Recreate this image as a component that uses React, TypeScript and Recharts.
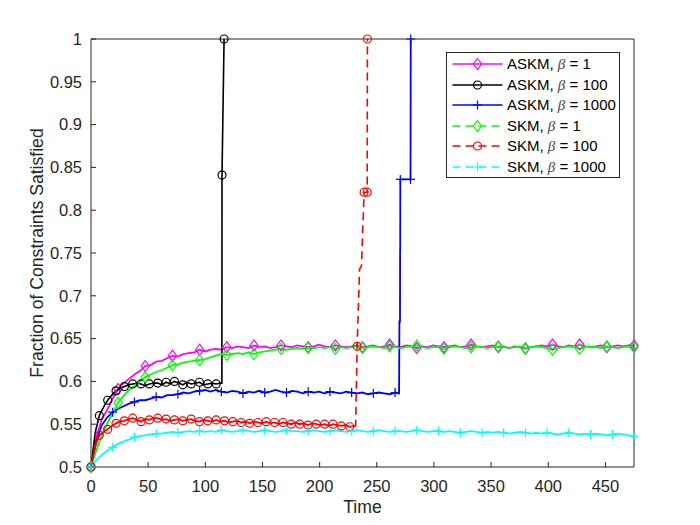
import { LineChart, Line, XAxis, YAxis, Legend, Label } from "recharts"

const xTicks = [0, 50, 100, 150, 200, 250, 300, 350, 400, 450]
const yTicks = [0.5, 0.55, 0.6, 0.65, 0.7, 0.75, 0.8, 0.85, 0.9, 0.95, 1]

// sampling steps of the time axis
const longStep = 4.75
const shortStep = 3.65

// ASKM, beta = 1
const askm1 = [
  0.5, 0.535, 0.556, 0.567, 0.58, 0.591, 0.598, 0.603, 0.608, 0.612,
  0.618, 0.619, 0.623, 0.624, 0.627, 0.63, 0.629, 0.632, 0.633, 0.634,
  0.637, 0.635, 0.637, 0.638, 0.637, 0.64, 0.639, 0.641, 0.64, 0.639,
  0.642, 0.64, 0.641, 0.639, 0.64, 0.642, 0.641, 0.64, 0.642, 0.641,
  0.64, 0.641, 0.643, 0.641, 0.64, 0.642, 0.641, 0.64, 0.641, 0.642,
  0.64, 0.641, 0.642, 0.64, 0.641, 0.643, 0.641, 0.64, 0.642, 0.641,
  0.639, 0.641, 0.64, 0.642, 0.641, 0.64, 0.641, 0.642, 0.64, 0.641,
  0.643, 0.641, 0.64, 0.641, 0.642, 0.64, 0.641, 0.639, 0.641, 0.64,
  0.638, 0.64, 0.641, 0.642, 0.641, 0.643, 0.641, 0.64, 0.642, 0.641,
  0.643, 0.641, 0.64, 0.641, 0.642, 0.64, 0.641, 0.642, 0.641, 0.642,
  0.642
]

// ASKM, beta = 100
const askm100 = [
  0.5, 0.54, 0.56, 0.57, 0.578, 0.584, 0.589, 0.592, 0.594, 0.596,
  0.597, 0.598, 0.597, 0.595, 0.597, 0.598, 0.598, 0.596, 0.599, 0.597,
  0.6, 0.598, 0.596, 0.599, 0.597, 0.598, 0.599, 0.596, 0.597, 0.598,
  0.597, 0.598
]
const askm100JumpT = [114.5, 114.6, 116.4]
const askm100JumpV = [0.598, 0.841, 1]
const askm100JumpM = [0, 1, 1]

// ASKM, beta = 1000
const askm1000 = [
  0.5, 0.531, 0.549, 0.558, 0.564, 0.568, 0.571, 0.574, 0.576, 0.578,
  0.578, 0.58, 0.582, 0.581, 0.584, 0.584, 0.585, 0.587, 0.586, 0.588,
  0.589, 0.59, 0.588, 0.59, 0.588, 0.587, 0.589, 0.588, 0.586, 0.588,
  0.587, 0.589, 0.587, 0.588, 0.59, 0.588, 0.587, 0.589, 0.588, 0.586,
  0.588, 0.587, 0.588, 0.586, 0.588, 0.587, 0.586, 0.588, 0.587, 0.586,
  0.587, 0.585, 0.586, 0.587, 0.586, 0.585, 0.587
]
const askm1000JumpT = [269.5, 269.8, 270.3, 270.4, 270.5, 270.6, 279.5, 279.7]
const askm1000JumpV = [0.586, 0.67, 0.67, 0.753, 0.753, 0.836, 0.836, 1]
const askm1000JumpM = [0, 0, 0, 0, 0, 1, 1, 1]

// SKM, beta = 1
const skm1 = [
  0.5, 0.52, 0.537, 0.551, 0.563, 0.575, 0.583, 0.59, 0.595, 0.6,
  0.605, 0.608, 0.611, 0.613, 0.616, 0.619, 0.62, 0.622, 0.623, 0.624,
  0.625, 0.626, 0.628, 0.63, 0.632, 0.631, 0.632, 0.633, 0.632, 0.634,
  0.632, 0.634, 0.635, 0.636, 0.637, 0.638, 0.637, 0.638, 0.639, 0.638,
  0.639, 0.639, 0.64, 0.639, 0.64, 0.638, 0.64, 0.639, 0.64, 0.641,
  0.639, 0.64, 0.641, 0.64, 0.639, 0.641, 0.64, 0.639, 0.64, 0.641,
  0.642, 0.64, 0.639, 0.64, 0.64, 0.638, 0.64, 0.641, 0.64, 0.639,
  0.64, 0.641, 0.64, 0.639, 0.64, 0.641, 0.64, 0.639, 0.64, 0.641,
  0.639, 0.64, 0.641, 0.64, 0.639, 0.637, 0.639, 0.64, 0.641, 0.64,
  0.638, 0.64, 0.641, 0.64, 0.639, 0.641, 0.64, 0.639, 0.64, 0.641,
  0.64
]

// SKM, beta = 100
const skm100 = [
  0.5, 0.524, 0.537, 0.541, 0.544, 0.548, 0.551, 0.553, 0.554, 0.556,
  0.557, 0.555, 0.553, 0.556, 0.555, 0.557, 0.557, 0.555, 0.556, 0.554,
  0.555, 0.556, 0.554, 0.555, 0.556, 0.554, 0.553, 0.555, 0.554, 0.553,
  0.555, 0.553, 0.554, 0.552, 0.553, 0.554, 0.552, 0.553, 0.551, 0.553,
  0.552, 0.551, 0.553, 0.551, 0.552, 0.55, 0.552, 0.551, 0.55, 0.552,
  0.55, 0.551, 0.549, 0.551, 0.55, 0.549, 0.55, 0.548, 0.55, 0.549,
  0.548, 0.549, 0.547, 0.548
]
const skm100JumpT = [231.5, 232.8, 234.9, 236.6, 238.9, 241.6, 241.8]
const skm100JumpV = [0.548, 0.641, 0.731, 0.735, 0.821, 0.821, 1]
const skm100JumpM = [0, 1, 0, 0, 1, 1, 1]

// SKM, beta = 1000
const skm1000 = [
  0.5, 0.508, 0.514, 0.519, 0.523, 0.527, 0.53, 0.532, 0.535, 0.536,
  0.537, 0.538, 0.539, 0.539, 0.54, 0.541, 0.54, 0.541, 0.542, 0.541,
  0.542, 0.541, 0.542, 0.541, 0.543, 0.542, 0.541, 0.542, 0.543, 0.542,
  0.541, 0.542, 0.543, 0.542, 0.541, 0.542, 0.543, 0.542, 0.542, 0.541,
  0.542, 0.543, 0.542, 0.541, 0.542, 0.543, 0.542, 0.541, 0.542, 0.543,
  0.542, 0.541, 0.542, 0.543, 0.542, 0.541, 0.542, 0.542, 0.541, 0.542,
  0.543, 0.542, 0.541, 0.542, 0.542, 0.541, 0.542, 0.541, 0.54, 0.541,
  0.542, 0.541, 0.54, 0.541, 0.54, 0.541, 0.54, 0.539, 0.54, 0.541,
  0.54, 0.539, 0.54, 0.539, 0.54, 0.539, 0.538, 0.539, 0.54, 0.539,
  0.538, 0.539, 0.538, 0.539, 0.538, 0.537, 0.538, 0.539, 0.538, 0.537,
  0.536
]

type Row = { t: number; v: number; m: boolean }

function build(step: number, vals: number[], every: number, jt: number[] = [], jv: number[] = [], jm: number[] = []): Row[] {
  const rows: Row[] = vals.map((v, i) => ({ t: +(i * step).toFixed(3), v, m: i % every === 0 }))
  jt.forEach((t, i) => rows.push({ t, v: jv[i], m: !!jm[i] }))
  return rows
}

const magentaRows = build(longStep, askm1, 5)
const blackRows = build(shortStep, askm100, 2, askm100JumpT, askm100JumpV, askm100JumpM)
const blueRows = build(longStep, askm1000, 4, askm1000JumpT, askm1000JumpV, askm1000JumpM)
const greenRows = build(longStep, skm1, 5)
const redRows = build(shortStep, skm100, 2)
const redJumpRows: Row[] = [
  { ...redRows[redRows.length - 1], m: false },
  ...build(0, [], 1, skm100JumpT, skm100JumpV, skm100JumpM)
]
const cyanRows = build(longStep, skm1000, 4)

const font = '"Liberation Sans", Arial, sans-serif'
const axisColor = "#262626"

function Marker({ kind, x, y, color }: { kind: string; x: number; y: number; color: string }) {
  if (kind === "diamond")
    return <path d={`M${x} ${y - 5.5}L${x + 4.2} ${y}L${x} ${y + 5.5}L${x - 4.2} ${y}Z`} fill="none" stroke={color} strokeWidth={1.2} />
  if (kind === "circle")
    return <circle cx={x} cy={y} r={4} fill="none" stroke={color} strokeWidth={1.2} />
  return <path d={`M${x - 4.5} ${y}H${x + 4.5}M${x} ${y - 4.5}V${y + 4.5}`} fill="none" stroke={color} strokeWidth={1.2} />
}

const markerDot = (kind: string, color: string) => (props: any) => {
  const { cx, cy, payload, index } = props
  if (!payload || !payload.m || cx == null || cy == null) return <g key={`e${index}`} />
  return <Marker key={`d${index}`} kind={kind} x={cx} y={cy} color={color} />
}

const legendItems = [
  { name: "ASKM", beta: "1", color: "#ff00ff", kind: "diamond", dashed: false },
  { name: "ASKM", beta: "100", color: "#000000", kind: "circle", dashed: false },
  { name: "ASKM", beta: "1000", color: "#0000ff", kind: "plus", dashed: false },
  { name: "SKM", beta: "1", color: "#00ff00", kind: "diamond", dashed: true },
  { name: "SKM", beta: "100", color: "#ff0000", kind: "circle", dashed: true },
  { name: "SKM", beta: "1000", color: "#00ffff", kind: "plus", dashed: true }
]

function LegendBox() {
  return (
    <div style={{ border: `1px solid ${axisColor}`, background: "#fff", width: 174, height: 126, boxSizing: "border-box", paddingTop: 1, fontFamily: font, fontSize: 15, color: "#000" }}>
      {legendItems.map((it, i) => (
        <div key={i} style={{ display: "flex", alignItems: "center", height: 20.5, paddingLeft: 5 }}>
          <svg width={52} height={20} style={{ flex: "none" }}>
            <line x1={0.5} y1={10} x2={50.5} y2={10} stroke={it.color} strokeWidth={1.3} strokeDasharray={it.dashed ? "8 5" : undefined} />
            <Marker kind={it.kind} x={25.5} y={10} color={it.color} />
          </svg>
          <span style={{ marginLeft: 3, whiteSpace: "nowrap" }}>
            {it.name}, <span style={{ fontStyle: "italic", fontFamily: '"Liberation Serif", serif', color: "#444" }}>β</span> = {it.beta}
          </span>
        </div>
      ))}
    </div>
  )
}

export default function App() {
  return (
    <div style={{ position: "absolute", left: 0, top: 0, width: 700, height: 525, background: "#fff" }}>
      <LineChart width={700} height={525} margin={{ top: 38, right: 65, bottom: 28, left: 31 }}>
        <XAxis
          dataKey="t"
          type="number"
          domain={[0, 475]}
          ticks={xTicks}
          allowDuplicatedCategory={false}
          height={30}
          tickSize={-5}
          tickMargin={18}
          stroke={axisColor}
          tick={{ fontSize: 16.5, fill: axisColor, fontFamily: font }}
        >
          <Label value="Time" position="bottom" offset={4} style={{ fontSize: 17.6, fill: axisColor, fontFamily: font }} />
        </XAxis>
        <XAxis xAxisId="top" orientation="top" type="number" domain={[0, 475]} ticks={xTicks} height={1} tickSize={-5} tick={false} stroke={axisColor} />
        <YAxis
          type="number"
          domain={[0.5, 1]}
          ticks={yTicks}
          width={60}
          tickSize={-5}
          tickMargin={14}
          stroke={axisColor}
          tick={{ fontSize: 16.5, fill: axisColor, fontFamily: font }}
        >
          <Label
            content={({ viewBox }: any) => {
              const x = viewBox.x + 6
              const y = viewBox.y + viewBox.height / 2
              return (
                <text x={x} y={y} transform={`rotate(-90 ${x} ${y})`} textAnchor="middle" dominantBaseline="central" fontSize={17.6} fill={axisColor} fontFamily={font}>
                  Fraction of Constraints Satisfied
                </text>
              )
            }}
          />
        </YAxis>
        <YAxis yAxisId="right" orientation="right" type="number" domain={[0.5, 1]} ticks={yTicks} width={1} tickSize={-5} tick={false} stroke={axisColor} />
        <Legend layout="vertical" align="center" verticalAlign="middle" wrapperStyle={{ left: 446, top: 52, width: 174 }} content={() => <LegendBox />} />

        <Line data={magentaRows} dataKey="v" type="linear" stroke="#ff00ff" strokeWidth={1.8} dot={markerDot("diamond", "#ff00ff")} activeDot={false} isAnimationActive={false} />
        <Line data={blackRows} dataKey="v" type="linear" stroke="#000000" strokeWidth={1.6} dot={markerDot("circle", "#000000")} activeDot={false} isAnimationActive={false} />
        <Line data={blueRows} dataKey="v" type="linear" stroke="#0000ff" strokeWidth={1.8} dot={markerDot("plus", "#0000ff")} activeDot={false} isAnimationActive={false} />
        <Line data={greenRows} dataKey="v" type="linear" stroke="#00ff00" strokeWidth={1.8} dot={markerDot("diamond", "#00ff00")} activeDot={false} isAnimationActive={false} />
        <Line data={redRows} dataKey="v" type="linear" stroke="#ff0000" strokeWidth={1.8} dot={markerDot("circle", "#ff0000")} activeDot={false} isAnimationActive={false} />
        <Line data={redJumpRows} dataKey="v" type="linear" stroke="#ff0000" strokeWidth={1.6} strokeDasharray="8 5" dot={markerDot("circle", "#ff0000")} activeDot={false} isAnimationActive={false} />
        <Line data={cyanRows} dataKey="v" type="linear" stroke="#00ffff" strokeWidth={1.8} dot={markerDot("plus", "#00ffff")} activeDot={false} isAnimationActive={false} />
      </LineChart>
    </div>
  )
}
